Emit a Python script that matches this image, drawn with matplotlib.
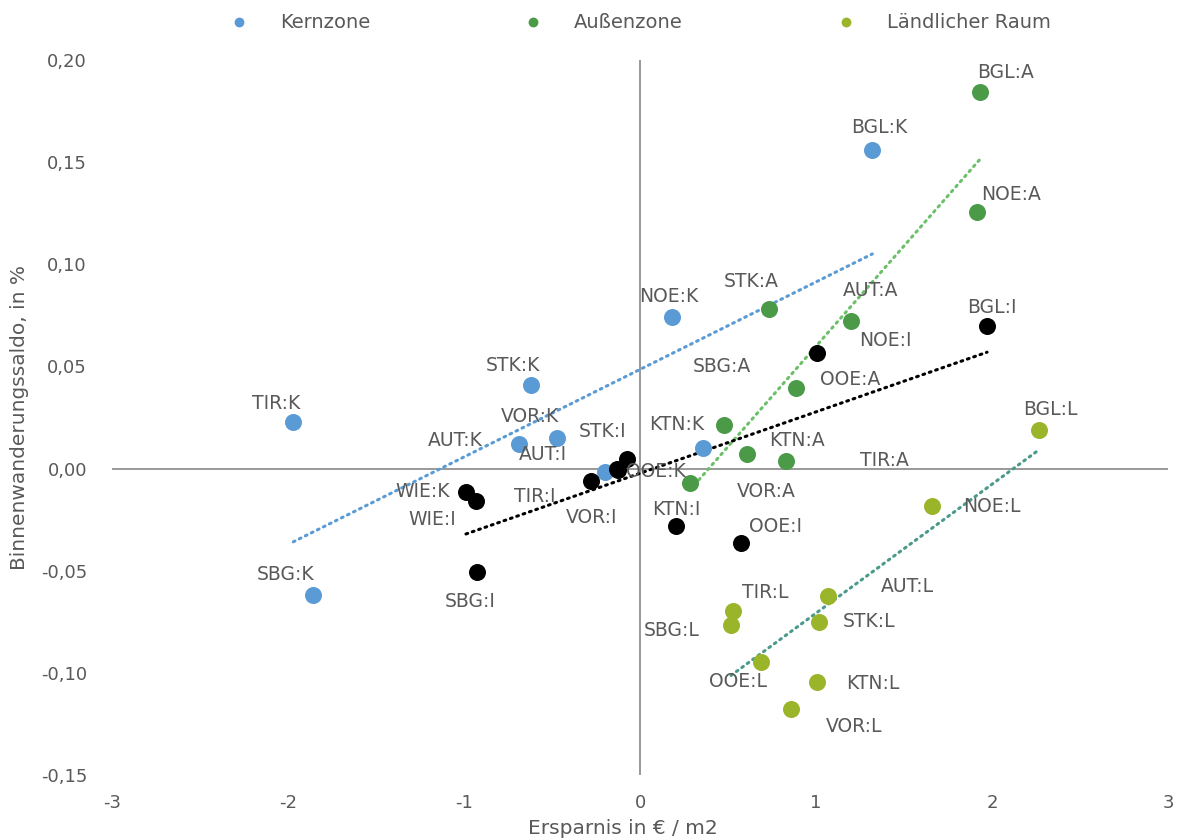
import matplotlib
matplotlib.use("Agg")
import matplotlib.pyplot as plt
import numpy as np
from matplotlib.ticker import FuncFormatter

# ---- data ----
kern_labels = ['TIR:K', 'SBG:K', 'STK:K', 'AUT:K', 'VOR:K', 'NOE:K', 'BGL:K', 'KTN:K', 'OOE:K']
kern_x = [-1.97, -1.86, -0.62, -0.69, -0.47, 0.18, 1.32, 0.36, -0.20]
kern_y = [0.023, -0.062, 0.041, 0.012, 0.015, 0.074, 0.156, 0.010, -0.0015]

aussen_labels = ['BGL:A', 'NOE:A', 'STK:A', 'AUT:A', 'OOE:A', 'SBG:A', 'KTN:A', 'TIR:A', 'VOR:A']
aussen_x = [1.93, 1.915, 0.733, 1.199, 0.886, 0.477, 0.608, 0.830, 0.284]
aussen_y = [0.1845, 0.1258, 0.0783, 0.0724, 0.0392, 0.0215, 0.0069, 0.0039, -0.0073]

land_labels = ['BGL:L', 'NOE:L', 'AUT:L', 'TIR:L', 'SBG:L', 'STK:L', 'OOE:L', 'KTN:L', 'VOR:L']
land_x = [2.267, 1.659, 1.068, 0.528, 0.517, 1.017, 0.688, 1.006, 0.858]
land_y = [0.0191, -0.0181, -0.0622, -0.0695, -0.0768, -0.0749, -0.0945, -0.1043, -0.1175]

ges_labels = ['WIE:K', 'WIE:I', 'SBG:I', 'TIR:I', 'AUT:I', 'VOR:I', 'STK:I', 'KTN:I', 'OOE:I', 'NOE:I', 'BGL:I']
ges_x = [-0.989, -0.932, -0.926, -0.278, -0.13, -0.125, -0.074, 0.205, 0.574, 1.006, 1.972]
ges_y = [-0.0113, -0.0157, -0.0504, -0.0059, 0.0, -0.0005, 0.0049, -0.0279, -0.0362, 0.0568, 0.070]

legend_names = ['Kernzone', 'Außenzone', 'Ländlicher Raum']
x_ticks = [-3, -2, -1, 0, 1, 2, 3]
y_ticks = [-0.15, -0.10, -0.05, 0.00, 0.05, 0.10, 0.15, 0.20]

# ---- label offsets (pixels, layout only) ----
kern_off = [(-17, 18), (-27, 21), (-18, 19), (-63, 4), (-27, 21), (-3, 21), (7, 22), (-27, 24), (51, 0)]
aussen_off = [(26, 19), (34, 17), (-18, 27), (20, 30), (54, 9), (-2, 58), (50, 14), (98, 0), (76, -8)]
land_off = [(11, 20), (60, -1), (79, 9), (32, 18), (-59, -5), (50, 0), (-23, -20), (56, -2), (63, -18)]
ges_off = [(-43, 0), (-44, -19), (-7, -30), (-56, -16), (-74, 14), (-26, -48), (-24, 27), (0, 16), (34, 16), (68, 12), (5, 18)]

c_kern = '#5B9BD5'
c_aussen = '#4A9A47'
c_land = '#9BB52A'
c_ges = '#000000'
t_kern = '#5B9BD5'
t_aussen = '#6CC06A'
t_land = '#4A9A8C'
t_ges = '#000000'
txt = '#595959'

plt.rcParams['font.family'] = ['DejaVu Sans']

fig = plt.figure(figsize=(11.77, 8.40), dpi=100)
ax = fig.add_axes([112/1177, 1-775/840, (1168-112)/1177, (775-60)/840])
ax.set_xlim(-3, 3)
ax.set_ylim(-0.15, 0.20)
for s in ax.spines.values():
    s.set_visible(False)
ax.axhline(0, color='#878787', lw=1.2, zorder=1)
ax.axvline(0, color='#878787', lw=1.2, zorder=1)

series = [
    (kern_x, kern_y, kern_labels, kern_off, c_kern, t_kern, legend_names[0]),
    (aussen_x, aussen_y, aussen_labels, aussen_off, c_aussen, t_aussen, legend_names[1]),
    (land_x, land_y, land_labels, land_off, c_land, t_land, legend_names[2]),
    (ges_x, ges_y, ges_labels, ges_off, c_ges, t_ges, None),
]
handles = []
for xs, ys, labs, offs, col, tcol, name in series:
    xs = np.array(xs); ys = np.array(ys)
    ax.scatter(xs, ys, s=150, color=col, zorder=3, linewidths=0)
    if name:
        handles.append(ax.scatter([], [], s=50, color=col, linewidths=0, label=name))
    k, d = np.polyfit(xs, ys, 1)
    xl = np.array([xs.min(), xs.max()])
    ax.plot(xl, k*xl + d, color=tcol, lw=2.2, ls=(0, (0.6, 1.6)), dash_capstyle='round', zorder=2)
    for lab, x, y, (ox, oy) in zip(labs, xs, ys, offs):
        ax.annotate(lab, (x, y), xytext=(ox, oy), textcoords='offset pixels',
                    ha='center', va='center', fontsize=13.5, color=txt, zorder=4)

ax.set_xticks(x_ticks)
ax.set_yticks(y_ticks)
ax.yaxis.set_major_formatter(FuncFormatter(lambda v, p: f"{v:.2f}".replace('.', ',').replace('-0,00', '0,00')))
ax.xaxis.set_major_formatter(FuncFormatter(lambda v, p: f"{int(round(v))}"))
ax.tick_params(length=0, labelsize=13, labelcolor=txt)
ax.tick_params(axis='y', pad=18)
ax.tick_params(axis='x', pad=14)

fig.text(623/1177, 1-828/840, 'Ersparnis in € / m2', ha='center', va='center', fontsize=14.5, color=txt)
fig.text(20/1177, 1-418/840, 'Binnenwanderungssaldo, in %', ha='center', va='center', rotation=90, fontsize=14.5, color=txt)

fig.legend(handles=handles, loc='center', bbox_to_anchor=(640/1177, 1-22/840), ncol=3,
           frameon=False, fontsize=14, labelcolor=txt, handlelength=1.0,
           handletextpad=1.6, columnspacing=7.9, borderaxespad=0)

fig.savefig('out.png', dpi=100)
